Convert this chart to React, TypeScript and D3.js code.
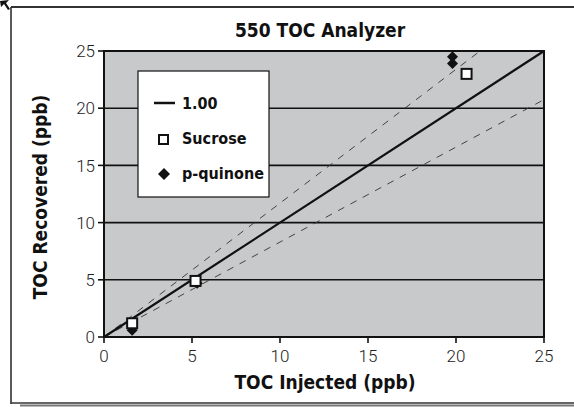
import React from "react";
import * as d3 from "d3";

// values
const sucroseInjected = [1.6, 5.2, 20.6];
const sucroseRecovered = [1.2, 4.9, 23.0];
const quinoneInjected = [1.6, 5.3, 19.8, 19.8];
const quinoneRecovered = [0.6, 4.7, 24.5, 23.9];
const refSlopes = [1.17, 0.83];
const xTicks = [0, 5, 10, 15, 20, 25];
const yTicks = [0, 5, 10, 15, 20, 25];
const legendLabels = ["1.00", "Sucrose", "p-quinone"];

const width = 574;
const height = 407;
const margin = { left: 104, right: 30, top: 51, bottom: 70 };

const boldFont = "'DejaVu Sans Condensed', 'Liberation Sans Narrow', Arial, sans-serif";
const lightFont = "Roboto, 'Liberation Sans', sans-serif";

// square diamond, r = half diagonal
const diamondPath = (r: number) => `M0,${-r}L${r},0L0,${r}L${-r},0Z`;

const App: React.FC = () => {
  const x = d3.scaleLinear().domain([0, 25]).range([margin.left, width - margin.right]);
  const y = d3.scaleLinear().domain([0, 25]).range([height - margin.bottom, margin.top]);

  const line = d3
    .line<[number, number]>()
    .x((d) => x(d[0]))
    .y((d) => y(d[1]));

  // clip dashed lines to the plot
  const refLine = (k: number): [number, number][] => {
    const xEnd = Math.min(25, 25 / k);
    return [
      [0, 0],
      [xEnd, k * xEnd],
    ];
  };

  const lx = 138;
  const ly = 71;

  return (
    <svg
      width={width}
      height={height}
      style={{ position: "absolute", left: 0, top: 0, background: "#fff" }}
    >
      {/* outer frame */}
      <line x1={11} x2={width} y1={7} y2={7} stroke="#333" strokeWidth={2} />
      <line x1={11} x2={11} y1={7} y2={404} stroke="#222" strokeWidth={1.5} />
      <line x1={11} x2={width} y1={403} y2={403} stroke="#333" strokeWidth={1.5} />
      <line x1={20} x2={width} y1={405.5} y2={405.5} stroke="#777" strokeWidth={2} />
      <path d="M0,1 L9,0 L6,3 L10,9 L8,10 L4,4 L1,7 Z" fill="#111" />

      {/* plot background */}
      <rect
        x={x(0)}
        y={y(25)}
        width={x(25) - x(0)}
        height={y(0) - y(25)}
        fill="#c8c9cb"
      />

      {/* horizontal gridlines */}
      {yTicks.slice(1, -1).map((t) => (
        <line key={t} x1={x(0)} x2={x(25)} y1={y(t)} y2={y(t)} stroke="#111" strokeWidth={1.6} />
      ))}

      {/* dashed bounds */}
      {refSlopes.map((k) => (
        <path
          key={k}
          d={line(refLine(k)) || ""}
          fill="none"
          stroke="#333"
          strokeWidth={0.9}
          strokeDasharray="7,7"
        />
      ))}

      {/* 1:1 line */}
      <path d={line([[0, 0], [25, 25]]) || ""} fill="none" stroke="#111" strokeWidth={2.2} />

      {/* plot border */}
      <rect
        x={x(0)}
        y={y(25)}
        width={x(25) - x(0)}
        height={y(0) - y(25)}
        fill="none"
        stroke="#111"
        strokeWidth={2}
      />

      {/* p-quinone */}
      {quinoneInjected.map((v, i) => (
        <path
          key={"q" + i}
          d={diamondPath(5.5)}
          transform={`translate(${x(v)},${y(quinoneRecovered[i])})`}
          fill="#111"
        />
      ))}

      {/* sucrose */}
      {sucroseInjected.map((v, i) => (
        <rect
          key={"s" + i}
          x={x(v) - 5}
          y={y(sucroseRecovered[i]) - 5}
          width={10}
          height={10}
          fill="#fff"
          stroke="#111"
          strokeWidth={2}
        />
      ))}

      {/* axes ticks */}
      {yTicks.map((t) => (
        <g key={"y" + t}>
          <line x1={x(0) - 6} x2={x(0)} y1={y(t)} y2={y(t)} stroke="#111" strokeWidth={1.6} />
          <text
            x={x(0) - 9}
            y={y(t)}
            dy="0.36em"
            textAnchor="end"
            fontFamily={lightFont}
            fontWeight={300}
            fontSize={17}
            fill="#222"
          >
            {t}
          </text>
        </g>
      ))}
      {xTicks.map((t) => (
        <g key={"x" + t}>
          <line x1={x(t)} x2={x(t)} y1={y(0)} y2={y(0) + 6} stroke="#111" strokeWidth={1.6} />
          <text
            x={x(t)}
            y={y(0) + 25}
            textAnchor="middle"
            fontFamily={lightFont}
            fontWeight={300}
            fontSize={17}
            fill="#222"
          >
            {t}
          </text>
        </g>
      ))}

      {/* titles */}
      <text
        x={320}
        y={37}
        textAnchor="middle"
        fontFamily={boldFont}
        fontWeight="bold"
        fontSize={19}
        fill="#111"
      >
        550 TOC Analyzer
      </text>
      <text
        x={325}
        y={389}
        textAnchor="middle"
        fontFamily={boldFont}
        fontWeight="bold"
        fontSize={19}
        fill="#111"
      >
        TOC Injected (ppb)
      </text>
      <text
        transform={`translate(47,${(y(0) + y(25)) / 2 + 3}) rotate(-90)`}
        textAnchor="middle"
        fontFamily={boldFont}
        fontWeight="bold"
        fontSize={19}
        fill="#111"
      >
        TOC Recovered (ppb)
      </text>

      {/* legend */}
      <rect x={lx} y={ly} width={131} height={126} fill="#fff" stroke="#111" strokeWidth={1.2} />
      <line x1={lx + 16} x2={lx + 37} y1={ly + 32} y2={ly + 32} stroke="#111" strokeWidth={2.5} />
      <rect x={lx + 21} y={ly + 64} width={9} height={9} fill="#fff" stroke="#111" strokeWidth={2} />
      <path d={diamondPath(6)} transform={`translate(${lx + 26},${ly + 103})`} fill="#111" />
      {legendLabels.map((l, i) => (
        <text
          key={l}
          x={lx + 44}
          y={ly + 38 + i * 35}
          fontFamily={boldFont}
          fontWeight="bold"
          fontSize={16}
          fill="#111"
        >
          {l}
        </text>
      ))}
    </svg>
  );
};

export default App;
